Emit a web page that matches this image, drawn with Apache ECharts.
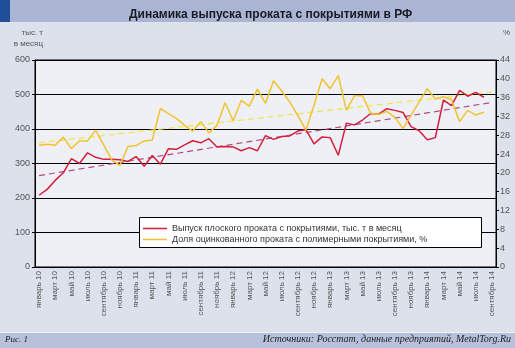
<!DOCTYPE html>
<html>
<head>
<meta charset="utf-8">
<script src="https://cdn.jsdelivr.net/npm/echarts@6/dist/echarts.min.js"></script>
<style>
  html, body { margin: 0; padding: 0; background: #dde1ec; }
  #chart { width: 515px; height: 348px; }
</style>
</head>
<body>
<div id="chart"></div>
<script>
// Months from January 2010 to September 2014
const monthNames = ['январь', 'февраль', 'март', 'апрель', 'май', 'июнь', 'июль', 'август', 'сентябрь', 'октябрь', 'ноябрь', 'декабрь'];
const years = ['10', '11', '12', '13', '14'];
const categories = [];
years.forEach(function (y) {
  monthNames.forEach(function (m, k) {
    if (y === '14' && k > 8) return;
    categories.push(m + ' ' + y);
  });
});

// Coated flat steel output, thousand tonnes per month
const outputValues = [
  208, 225, 251, 273, 314, 300, 331, 318, 312, 312, 311, 306,
  320, 292, 323, 298, 343, 341, 354, 366, 360, 372, 348, 349,
  348, 337, 346, 337, 381, 370, 378, 380, 394, 398, 357, 377,
  375, 324, 417, 412, 426, 445, 443, 459, 454, 448, 407, 395,
  369, 375, 484, 468, 512, 495, 506, 492
];

// Share of pre-painted galvanized steel, %
const shareValues = [
  25.9, 26.1, 25.9, 27.6, 25.2, 26.8, 26.8, 29.1, 25.9, 22.7, 21.6, 25.6,
  25.8, 26.8, 27.0, 33.7, 32.6, 31.6, 30.1, 28.9, 30.9, 28.5, 30.1, 34.9,
  31.1, 35.4, 34.2, 37.8, 34.8, 39.6, 37.4, 35.1, 32.2, 29.1, 34.4, 40.0,
  37.9, 40.7, 33.3, 36.4, 36.4, 32.7, 32.4, 33.1, 31.8, 29.4, 32.3, 35.1,
  37.9, 35.7, 36.2, 35.6, 30.9, 33.3, 32.3, 32.9
];

// Linear trend end points (first and last month)
const outputTrend = [265, 477];
const shareTrend = [26.4, 37.2];

const leftTicks = { min: 0, max: 600, interval: 100 };
const rightTicks = { min: 0, max: 44, interval: 4 };

const seriesNames = [
  'Выпуск плоского проката с покрытиями, тыс. т в месяц',
  'Доля оцинкованного проката с полимерными покрытиями, %'
];

const FONT = '"Liberation Sans", Arial, sans-serif';
const SERIF = '"Liberation Serif", "DejaVu Serif", serif';

const chart = echarts.init(document.getElementById('chart'), null, { renderer: 'canvas' });

const lastCat = categories[categories.length - 1];

chart.setOption({
  backgroundColor: '#dde1ec',
  animation: false,
  textStyle: { fontFamily: FONT },
  title: {
    text: 'Динамика выпуска проката с покрытиями в РФ',
    left: 124,
    top: 4,
    textStyle: { fontFamily: FONT, fontSize: 12, fontWeight: 'bold', color: '#1a1a24' }
  },
  graphic: [
    { type: 'rect', z: -1, shape: { x: 0, y: 0, width: 515, height: 22 }, style: { fill: '#a9b5d3' } },
    { type: 'rect', z: -1, shape: { x: 0, y: 0, width: 10, height: 22 }, style: { fill: '#1f4f99' } },
    { type: 'rect', z: -1, shape: { x: 0, y: 333, width: 515, height: 15 }, style: { fill: '#b7c1dc' } },
    { type: 'rect', z: -1, shape: { x: 0, y: 332, width: 515, height: 1 }, style: { fill: '#eef0f6' } },
    { type: 'text', style: { text: 'тыс. т', x: 43, y: 29, textAlign: 'right', fill: '#555', font: '8px ' + FONT } },
    { type: 'text', style: { text: 'в месяц', x: 43, y: 40, textAlign: 'right', fill: '#555', font: '8px ' + FONT } },
    { type: 'text', style: { text: '%', x: 503, y: 29, fill: '#555', font: '8px ' + FONT } },
    { type: 'text', style: { text: 'Рис. 1', x: 5, y: 335, fill: '#222', font: 'italic 9px ' + SERIF } },
    { type: 'text', style: { text: 'Источники: Росстат, данные предприятий, MetalTorg.Ru', x: 511, y: 334, textAlign: 'right', fill: '#222', font: 'italic 10px ' + SERIF } },
    { type: 'rect', z: 3, shape: { x: 139.5, y: 217.5, width: 342, height: 30 }, style: { fill: '#ffffff', stroke: '#000', lineWidth: 1 } }
  ],
  legend: {
    data: seriesNames,
    orient: 'vertical',
    left: 138,
    top: 218,
    itemGap: 0,
    icon: 'rect',
    itemWidth: 24,
    itemHeight: 1.5,
    z: 5,
    textStyle: { fontFamily: FONT, fontSize: 9, color: '#333', lineHeight: 11 }
  },
  grid: {
    left: 35, right: 19, top: 60, bottom: 81,
    show: true, backgroundColor: '#eef0f6', borderColor: '#000', borderWidth: 1
  },
  xAxis: {
    type: 'category',
    data: categories,
    boundaryGap: true,
    axisLine: { lineStyle: { color: '#000', width: 1 } },
    axisTick: { interval: 1, length: 3, lineStyle: { color: '#000' } },
    axisLabel: { interval: 1, rotate: 90, fontSize: 8, color: '#555', margin: 4, fontFamily: FONT }
  },
  yAxis: [
    {
      type: 'value', position: 'left',
      min: leftTicks.min, max: leftTicks.max, interval: leftTicks.interval,
      axisLine: { show: true, lineStyle: { color: '#000' } },
      axisTick: { show: true, length: 3, lineStyle: { color: '#000' } },
      axisLabel: { fontSize: 9, color: '#555', margin: 5, fontFamily: FONT },
      splitLine: { show: true, lineStyle: { color: '#000', width: 1 } }
    },
    {
      type: 'value', position: 'right',
      min: rightTicks.min, max: rightTicks.max, interval: rightTicks.interval,
      axisLine: { show: true, lineStyle: { color: '#000' } },
      axisTick: { show: true, length: 3, lineStyle: { color: '#000' } },
      axisLabel: { fontSize: 9, color: '#555', margin: 4, fontFamily: FONT },
      splitLine: { show: false }
    }
  ],
  series: [
    {
      name: seriesNames[0], type: 'line', yAxisIndex: 0, data: outputValues,
      symbol: 'none', z: 3,
      itemStyle: { color: '#d21f3d' },
      lineStyle: { color: '#d21f3d', width: 1.5 }
    },
    {
      name: seriesNames[1], type: 'line', yAxisIndex: 1, data: shareValues,
      symbol: 'none', z: 3,
      itemStyle: { color: '#f2c330' },
      lineStyle: { color: '#f2c330', width: 1.5 }
    },
    {
      name: 'trend-output', type: 'line', yAxisIndex: 0,
      data: [[categories[0], outputTrend[0]], [lastCat, outputTrend[1]]],
      symbol: 'none', z: 2, silent: true,
      lineStyle: { color: '#b24a80', width: 1.2, type: [6, 4] }
    },
    {
      name: 'trend-share', type: 'line', yAxisIndex: 1,
      data: [[categories[0], shareTrend[0]], [lastCat, shareTrend[1]]],
      symbol: 'none', z: 2, silent: true,
      lineStyle: { color: '#f0e448', width: 1.2, type: [6, 4] }
    }
  ]
});
</script>
</body>
</html>
